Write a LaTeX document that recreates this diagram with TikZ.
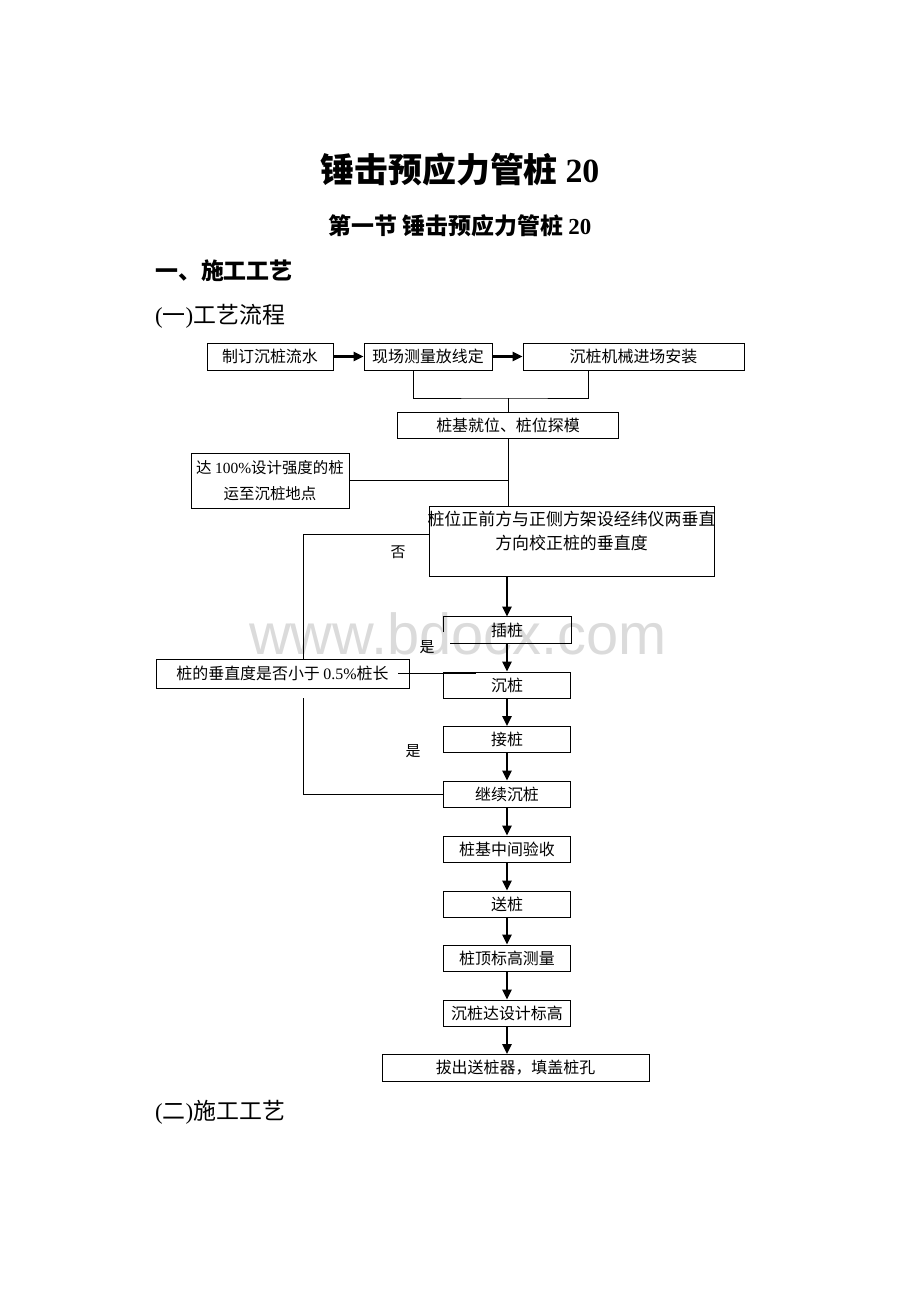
\documentclass[tikz,border=0pt]{standalone}
\usepackage{fontspec}
\setmainfont{Liberation Serif}
\newfontfamily\cjk{Noto Sans CJK SC}
\newfontfamily\wmfont{Liberation Sans}
\usetikzlibrary{arrows.meta}
\newcommand{\zh}[1]{{\cjk #1}}
\newcommand{\lat}[1]{{\rmfamily #1}}

\begin{document}
\begin{tikzpicture}[x=1bp,y=-1bp,
  box/.style={draw,line width=0.9pt,inner sep=0pt,font=\cjk\fontsize{16}{19}\selectfont},
  col/.style={box,minimum width=127bp,minimum height=26bp},
  flow/.style={line width=2.6pt,-{Triangle[length=10pt,width=9pt]}},
  link/.style={line width=0.9pt},
  tag/.style={inner sep=0pt,font=\cjk\fontsize{15}{18}\selectfont}]

\useasboundingbox (0,0) rectangle (920,1302);
\node (wm) at (458,634)[text=black!14,font=\wmfont\fontsize{58}{62}\selectfont] {www.bdocx.com};

\node (title) at (460,170)[inner sep=0pt,font=\cjk\bfseries\fontsize{34}{40}\selectfont] {锤击预应力管桩 \lat{20}};
\node (sec) at (460,226)[inner sep=0pt,font=\cjk\bfseries\fontsize{23}{27}\selectfont] {第一节 锤击预应力管桩 \lat{20}};
\node (hd1) at (155,271)[anchor=west,inner sep=0pt,font=\cjk\bfseries\fontsize{23}{27}\selectfont] {一、施工工艺};
\node (hd2) at (155,316)[anchor=west,inner sep=0pt,font=\fontsize{23}{27}\selectfont] {(\zh{一})\zh{工艺流程}};
\node (hd3) at (155,1112)[anchor=west,inner sep=0pt,font=\fontsize{23}{27}\selectfont] {(\zh{二})\zh{施工工艺}};

\node (b1) at (270,356.5)[box,minimum width=126bp,minimum height=27bp] {制订沉桩流水};
\node (b2) at (428,356.5)[box,minimum width=128bp,minimum height=27bp] {现场测量放线定};
\node (b3) at (633.5,356.5)[box,minimum width=221bp,minimum height=27bp] {沉桩机械进场安装};
\node (b4) at (508,425)[box,minimum width=221bp,minimum height=26bp] {桩基就位、桩位探模};
\node (b5) at (270,480.5)[box,minimum width=158bp,minimum height=55bp,align=center,font=\cjk\fontsize{15.5}{26}\selectfont] {达 \lat{100\%}设计强度的桩\\运至沉桩地点};
\node (b6) at (571.5,541)[box,minimum width=285bp,minimum height=70bp] {};
\node (b6t) at (571.5,511)[anchor=north,align=center,inner sep=0pt,font=\cjk\fontsize{17}{24}\selectfont] {桩位正前方与正侧方架设经纬仪两垂直\\方向校正桩的垂直度};
\node (ck) at (282.5,673.5)[box,minimum width=253bp,minimum height=29bp] {桩的垂直度是否小于 \lat{0.5\%}桩长};

\node (p1) at (507,630)[col,draw=none] {插桩};
\node (b8) at (507,685)[col] {沉桩};
\node (b9) at (507,739.5)[col] {接桩};
\node (b10) at (507,794)[col] {继续沉桩};
\node (b11) at (507,849)[col] {桩基中间验收};
\node (b12) at (507,904)[col] {送桩};
\node (b13) at (507,958)[col] {桩顶标高测量};
\node (b14) at (507,1013)[col] {沉桩达设计标高};
\node (b15) at (515.5,1068)[box,minimum width=267bp,minimum height=27bp] {拔出送桩器，填盖桩孔};

\node (no) at (398,552)[tag] {否};
\node (yes1) at (427,647)[tag] {是};
\node (yes2) at (413,751)[tag] {是};

\draw [link] ([yshift=-2bp]p1.west) -- (p1.north west) -- (p1.north east) -- (p1.south east) -- ([xshift=7bp]p1.south west);

\draw [flow] (b1) -- (b2);
\draw [flow] (b2) -- (b3);
\coordinate (j1) at (508,398);
\draw [link] ([xshift=-15bp]b2.south) |- (j1) -| ([xshift=-45.5bp]b3.south);
\draw [link] (j1) -- (b4);
\draw [link] (b4) -- (b4.south |- b6.north);
\draw [link] (b5) -- (b5 -| b4.south);
\draw [link] ([yshift=7bp]b6.west) -| ([xshift=21bp]ck.north);
\draw [link] ([shift={(21bp,-10bp)}]ck.south) |- (b10.west);
\draw [link] ([xshift=-11bp]ck.east) -- ++(78,0);

\draw [flow] (p1.north |- b6.south) -- (p1);
\draw [flow] (p1) -- (b8);
\draw [flow] (b8) -- (b9);
\draw [flow] (b9) -- (b10);
\draw [flow] (b10) -- (b11);
\draw [flow] (b11) -- (b12);
\draw [flow] (b12) -- (b13);
\draw [flow] (b13) -- (b14);
\draw [flow] (b14) -- (b14 |- b15.north);
\end{tikzpicture}
\end{document}
